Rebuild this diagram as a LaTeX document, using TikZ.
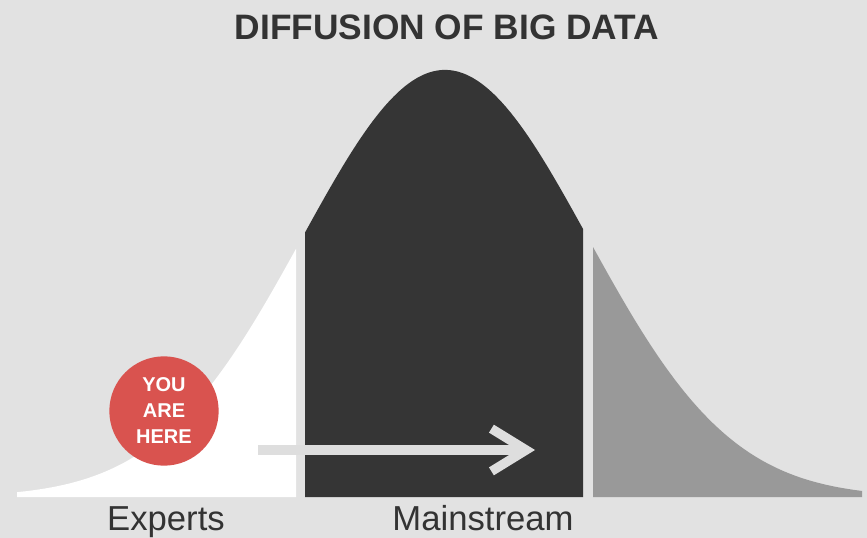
\documentclass[tikz,border=0pt]{standalone}
\usepackage{fontspec}
\setmainfont{Liberation Sans}
\usepackage{tikz}
\usetikzlibrary{arrows.meta}

\definecolor{bgGray}{RGB}{226,226,226}
\definecolor{coreDark}{RGB}{53,53,53}
\definecolor{tailGray}{RGB}{153,153,153}
\definecolor{hereRed}{RGB}{217,83,79}
\definecolor{inkDark}{RGB}{51,51,51}
\definecolor{arrowGray}{RGB}{222,222,222}

\begin{document}
\begin{tikzpicture}[x=0.75pt,y=0.75pt,yscale=-1,xscale=1,
  declare function={bell(\t)=497-427*exp(-((\t-445)/143)^2/2);},
  titletext/.style={font=\fontsize{26.5}{28}\selectfont\bfseries, text=inkDark, inner sep=0pt},
  captiontext/.style={font=\fontsize{26}{28}\selectfont, text=inkDark, inner sep=0pt, anchor=base},
  herebadge/.style={circle, fill=hereRed, minimum size=82pt, inner sep=0pt, align=center,
    text=white, font=\fontsize{15}{19.5}\selectfont\bfseries},
  progress/.style={draw=arrowGray, line width=7pt, -{Straight Barb[length=26pt, width=32pt]}}]
%set diagram to 867 x 538
\useasboundingbox (0,0) rectangle (867,538);
\fill[bgGray] (0,0) rectangle (867,538);

%Shape: left tail (experts)
\fill[white] (17,497) -- plot[domain=17:296, samples=90] (\x,{bell(\x)}) -- (296,497) -- cycle;
%Shape: middle (mainstream)
\fill[coreDark] (305,497) -- plot[domain=305:583, samples=120] (\x,{bell(\x)}) -- (583,497) -- cycle;
%Shape: right tail
\fill[tailGray] (593,497) -- plot[domain=593:862, samples=90] (\x,{bell(\x)}) -- (862,497) -- cycle;

%Straight Lines: progress arrow
\coordinate (arrowtail) at (258,450);
\coordinate (arrowtip) at (535,450);
\draw[progress] (arrowtail) -- (arrowtip);

% Badge
\node[herebadge] (here) at (164,411) {YOU\\ARE\\HERE};

% Text Node
\node[titletext] (title) at (447,27) {DIFFUSION OF BIG DATA};
% Text Node
\node[captiontext] (experts) at (166,530) {Experts};
% Text Node
\node[captiontext] (mainstream) at (483,530) {Mainstream};

\end{tikzpicture}
\end{document}
